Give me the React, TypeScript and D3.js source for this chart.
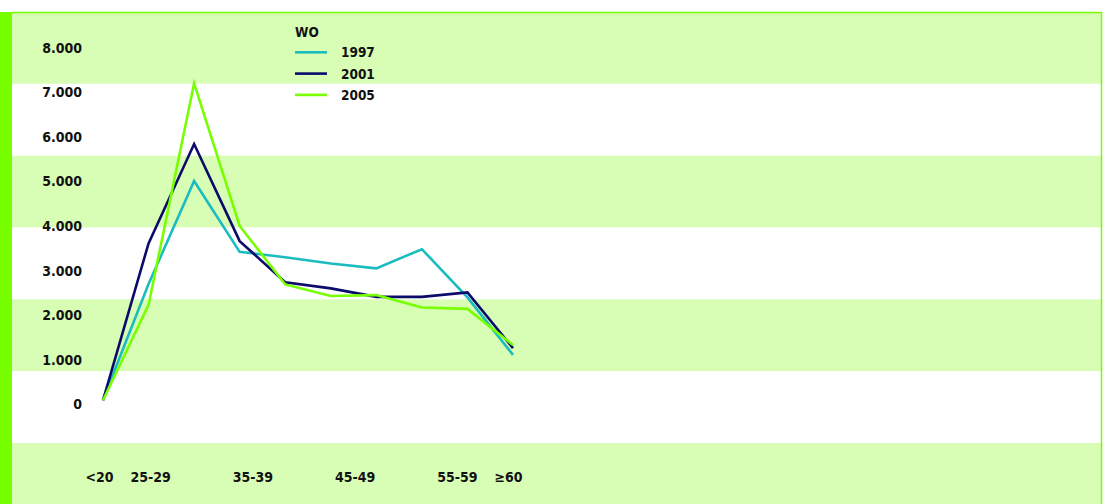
import React from "react";
import * as d3 from "d3";

const ageGroups = ["<20", "20-24", "25-29", "30-34", "35-39", "40-44", "45-49", "50-54", "55-59", "≥60"];
const axisSlots = ["<20", "25-29", "30-34", "35-39", "40-44", "45-49", "50-54", "55-59", "≥60"];
const shownLabels = ["<20", "25-29", "35-39", "45-49", "55-59", "≥60"];
const yTicks = [0, 1000, 2000, 3000, 4000, 5000, 6000, 7000, 8000];

const series1997 = [96, 2700, 5010, 3420, 3300, 3160, 3050, 3480, 2400, 1110];
const series2001 = [90, 3610, 5840, 3660, 2740, 2600, 2410, 2410, 2510, 1260];
const series2005 = [90, 2230, 7200, 4000, 2690, 2430, 2450, 2170, 2140, 1330];

const seriesNames = ["1997", "2001", "2005"];
const seriesColors = ["#1bbcc0", "#0b0b6b", "#77ff00"];
const legendTitle = "WO";

const W = 1106;
const H = 504;
const FONT = "'DejaVu Sans Condensed', 'DejaVu Sans', sans-serif";

export default function App() {
  const all = [series1997, series2001, series2005];
  const x = d3.scalePoint<string>().domain(ageGroups).range([103, 513]);
  const xl = d3.scalePoint<string>().domain(axisSlots).range([99.5, 508.5]);
  const y = d3.scaleLinear().domain([0, 8000]).range([404.3, 47.7]);
  const bands = d3.range(7);
  const bandScale = d3.scaleBand<number>().domain(bands).range([12, 12 + 7 * 71.85]);
  const line = d3
    .line<number>()
    .x((_, i) => x(ageGroups[i]) as number)
    .y((d) => y(d));
  const fmt = (v: number) => (v === 0 ? "0" : d3.format(",")(v).replace(/,/g, "."));

  return (
    <svg
      width={W}
      height={H}
      style={{ position: "absolute", left: 0, top: 0, background: "#fff" }}
      fontFamily={FONT}
      fontStretch="condensed"
    >
      <rect x={0} y={0} width={W} height={H} fill="#ffffff" />
      {bands.map((b) => (
        <rect
          key={b}
          x={12}
          y={bandScale(b) as number}
          width={1090}
          height={bandScale.bandwidth()}
          fill={b % 2 === 0 ? "#d8fdb4" : "#ffffff"}
        />
      ))}
      <rect x={0} y={12} width={12} height={H - 12} fill="#77ff00" />
      <line x1={12} x2={1102} y1={12.5} y2={12.5} stroke="#77ff00" strokeWidth={1.5} />
      <line x1={1101.5} x2={1101.5} y1={12} y2={H} stroke="#77ff00" strokeWidth={1.5} />

      {yTicks.map((t) => (
        <text
          key={t}
          x={82}
          y={y(t)}
          textAnchor="end"
          dominantBaseline="central"
          fontSize={14}
          fontWeight={700}
          fill="#111"
        >
          {fmt(t)}
        </text>
      ))}

      {shownLabels.map((l) => (
        <text
          key={l}
          x={xl(l) as number}
          y={477}
          textAnchor="middle"
          dominantBaseline="central"
          fontSize={14}
          fontWeight={700}
          fill="#111"
        >
          {l}
        </text>
      ))}

      {all.map((s, i) => (
        <path
          key={seriesNames[i]}
          d={line(s) || ""}
          fill="none"
          stroke={seriesColors[i]}
          strokeWidth={2.6}
          strokeLinejoin="miter"
        />
      ))}

      <text x={295} y={32} dominantBaseline="central" fontSize={13.5} fontWeight={700} fill="#111">
        {legendTitle}
      </text>
      {seriesNames.map((n, i) => (
        <g key={n} transform={`translate(0, ${52.3 + i * 21.3})`}>
          <line x1={295} x2={327} y1={0} y2={0} stroke={seriesColors[i]} strokeWidth={2.6} />
          <text x={341} y={0} dominantBaseline="central" fontSize={13.5} fontWeight={700} fill="#111">
            {n}
          </text>
        </g>
      ))}
    </svg>
  );
}
